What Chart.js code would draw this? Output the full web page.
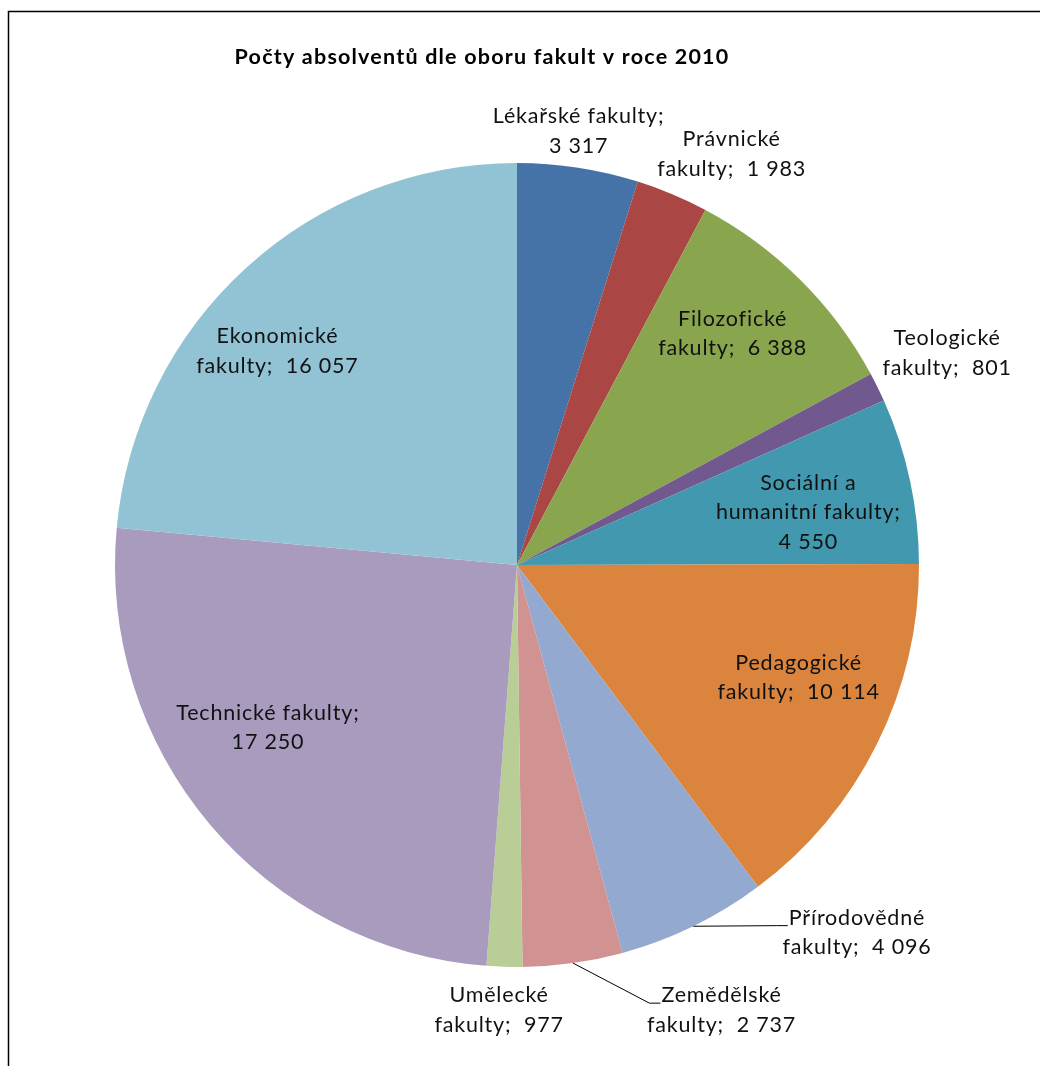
<!DOCTYPE html>
<html lang="cs">
<head>
<meta charset="utf-8">
<title>Počty absolventů dle oboru fakult v roce 2010</title>
<script src="https://cdn.jsdelivr.net/npm/chart.js@4/dist/chart.umd.min.js"></script>
<style>
  html, body { margin: 0; padding: 0; background: #fff; }
  #wrap { width: 1040px; height: 1066px; }
</style>
</head>
<body>
<div id="wrap"><canvas id="c" width="1040" height="1066"></canvas></div>
<script>
// Faculty groups and graduate counts (2010)
const categories = [
  'Lékařské fakulty',
  'Právnické fakulty',
  'Filozofické fakulty',
  'Teologické fakulty',
  'Sociální a humanitní fakulty',
  'Pedagogické fakulty',
  'Přírodovědné fakulty',
  'Zemědělské fakulty',
  'Umělecké fakulty',
  'Technické fakulty',
  'Ekonomické fakulty'
];
const graduates = [3317, 1983, 6388, 801, 4550, 10114, 4096, 2737, 977, 17250, 16057];
const sliceColors = [
  '#4572A7', '#AA4643', '#89A54E', '#71588F', '#4198AF', '#DB843D',
  '#93A9CF', '#D19392', '#B9CD96', '#A99BBD', '#92C3D5'
];
const chartTitle = 'Počty absolventů dle oboru fakult v roce 2010';

// Label placement per slice: k = distance from centre as a fraction of the radius
// (along the slice's mid angle), dx/dy = nudge in pixels, w = wrap width, leader = connector line
const labelLayout = [
  { k: 1.09,  dx: -5,  dy: -1,  w: 185 },
  { k: 1.17,  dx: 33,  dy: 23,  w: 150 },
  { k: 0.786, dx: -7,  dy: -7,  w: 155 },
  { k: 1.193, dx: 0,   dy: 0,   w: 155 },
  { k: 0.787, dx: -18, dy: 14,  w: 200 },
  { k: 0.755, dx: 10,  dy: -23, w: 172 },
  { k: 1.10,  dx: 146, dy: -30, w: 165, leader: true },
  { k: 1.10,  dx: 143, dy: 7,   w: 165, leader: true },
  { k: 1.108, dx: -4,  dy: 0,   w: 150 },
  { k: 0.739, dx: -22, dy: -29, w: 200 },
  { k: 0.80,  dx: -23, dy: 24,  w: 178 }
];

const LABEL_FONT = '21.5px Lato, "Open Sans", sans-serif';
const LABEL_SPACING = '0.8px';
const LINE_H = 29.5;

function formatCount(v) {
  return String(v).replace(/\B(?=(\d{3})+(?!\d))/g, ' ');
}

function wrapLabel(ctx, name, value, maxW) {
  const words = (name + ';').split(' ');
  words.push('\u00a0' + formatCount(value));
  const lines = [];
  let cur = '';
  for (const w of words) {
    const test = cur ? cur + ' ' + w : w;
    if (cur && ctx.measureText(test).width > maxW) {
      lines.push(cur);
      cur = w.replace(/^\u00a0/, '');
    } else {
      cur = test;
    }
  }
  if (cur) lines.push(cur);
  return lines;
}

const decorations = {
  id: 'decorations',
  beforeDraw(chart) {
    const ctx = chart.ctx;
    ctx.save();
    ctx.strokeStyle = '#000';
    ctx.lineWidth = 1.5;
    ctx.strokeRect(8.5, 11.5, 1100, 1100);
    ctx.restore();
  },
  afterDatasetsDraw(chart) {
    const ctx = chart.ctx;
    const meta = chart.getDatasetMeta(0);
    ctx.save();
    // title
    ctx.fillStyle = '#000';
    ctx.font = 'bold 21.5px Lato, "Open Sans", sans-serif';
    ctx.letterSpacing = '1.2px';
    ctx.textAlign = 'center';
    ctx.textBaseline = 'middle';
    ctx.fillText(chartTitle, 482, 57);

    ctx.font = LABEL_FONT;
    ctx.letterSpacing = LABEL_SPACING;
    meta.data.forEach((arc, i) => {
      const L = labelLayout[i];
      const mid = (arc.startAngle + arc.endAngle) / 2;
      const r = arc.outerRadius;
      const cx = arc.x + Math.cos(mid) * r * L.k + L.dx;
      const cy = arc.y + Math.sin(mid) * r * L.k + L.dy;
      const lines = wrapLabel(ctx, categories[i], graduates[i], L.w);
      const y0 = cy - (lines.length - 1) * LINE_H / 2;
      ctx.fillStyle = '#111';
      ctx.textAlign = 'center';
      ctx.textBaseline = 'middle';
      lines.forEach((t, j) => ctx.fillText(t, cx, y0 + j * LINE_H));
      if (L.leader) {
        const firstLeft = cx - ctx.measureText(lines[0]).width / 2;
        const ex = arc.x + Math.cos(mid) * r;
        const ey = arc.y + Math.sin(mid) * r;
        const ay = y0 + 8;
        ctx.strokeStyle = '#000';
        ctx.lineWidth = 1;
        ctx.beginPath();
        ctx.moveTo(ex, ey);
        ctx.lineTo(firstLeft - 12, ay);
        ctx.lineTo(firstLeft - 1, ay);
        ctx.stroke();
      }
    });
    ctx.restore();
  }
};

new Chart(document.getElementById('c'), {
  type: 'pie',
  data: {
    labels: categories,
    datasets: [{
      data: graduates,
      backgroundColor: sliceColors,
      borderWidth: 0
    }]
  },
  options: {
    responsive: false,
    animation: false,
    layout: { padding: { top: 163, bottom: 99, left: 115, right: 121 } },
    plugins: {
      legend: { display: false },
      tooltip: { enabled: false },
      title: { display: false }
    }
  },
  plugins: [decorations]
});
</script>
</body>
</html>
